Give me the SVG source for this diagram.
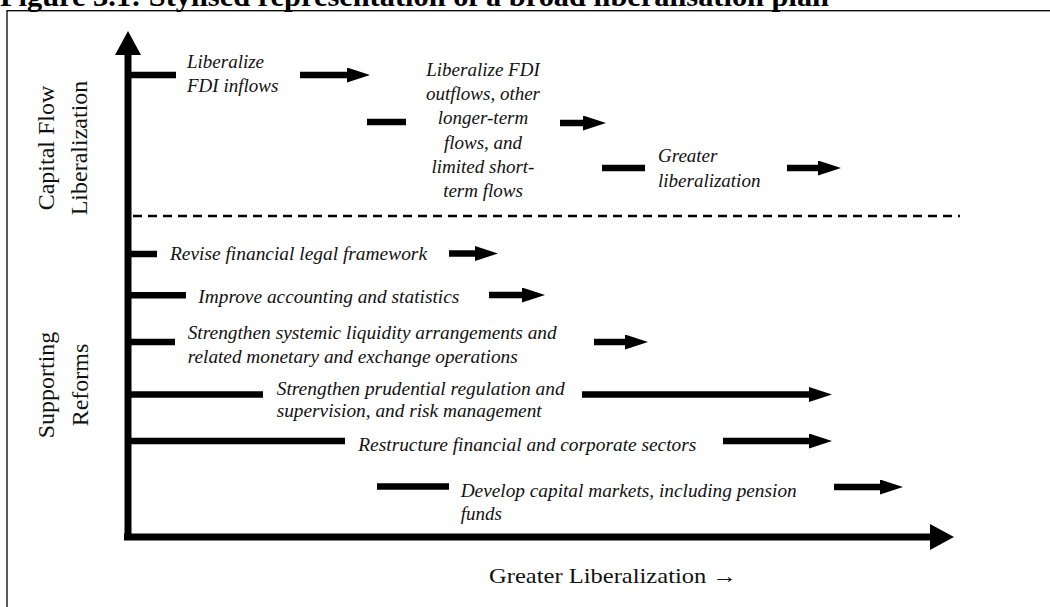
<svg xmlns="http://www.w3.org/2000/svg" width="1050" height="607" viewBox="0 0 1050 607">
<style>
.it{font-family:"Liberation Serif","Times New Roman",serif;font-style:italic;font-size:19px;fill:#111;}
.lab{font-family:"Liberation Serif","Times New Roman",serif;font-size:24px;fill:#111;}
.ttl{font-family:"Liberation Serif","Times New Roman",serif;font-weight:bold;font-size:30px;fill:#000;}
.ax{font-family:"Liberation Serif","Times New Roman",serif;font-size:22px;fill:#111;}
.bar{stroke:#000;stroke-width:6.5;fill:none;stroke-linecap:butt;}
.arr{stroke:#000;stroke-width:6.5;fill:none;stroke-linecap:butt;marker-end:url(#ah);}
.axis{stroke:#000;stroke-width:7;fill:none;stroke-linecap:butt;marker-end:url(#big);}
</style>
<defs>
<marker id="ah" markerUnits="userSpaceOnUse" viewBox="0 0 23 15" markerWidth="23" markerHeight="15" refX="0" refY="7.5" orient="auto"><path d="M0,0 L23,7.5 L0,15 Z" fill="#000"/></marker>
<marker id="big" markerUnits="userSpaceOnUse" viewBox="0 0 24 26" markerWidth="24" markerHeight="26" refX="0" refY="13" orient="auto"><path d="M0,0 L24,13 L0,26 Z" fill="#000"/></marker>
</defs>
<rect width="1050" height="607" fill="#fff"/>
<text class="ttl" x="0" y="6" textLength="829" lengthAdjust="spacingAndGlyphs">Figure 3.1: Stylised representation of a broad liberalisation plan</text>
<rect x="7" y="10.7" width="1100" height="700" fill="none" stroke="#000" stroke-width="1.3"/>

<g id="axes">
<line class="axis" x1="128" y1="540" x2="128" y2="55"/>
<line class="axis" x1="124" y1="537" x2="930" y2="537"/>
<line x1="133" y1="216" x2="960" y2="216" stroke="#000" stroke-width="2.5" stroke-dasharray="9 6"/>
</g>

<g id="axis-labels">
<text class="lab" transform="translate(54,148) rotate(-90)" text-anchor="middle">Capital Flow</text>
<text class="lab" transform="translate(87,148) rotate(-90)" text-anchor="middle">Liberalization</text>
<text class="lab" transform="translate(54,385) rotate(-90)" text-anchor="middle">Supporting</text>
<text class="lab" transform="translate(88,385) rotate(-90)" text-anchor="middle">Reforms</text>
<text class="ax" x="489" y="583" textLength="248" lengthAdjust="spacingAndGlyphs">Greater Liberalization →</text>
</g>

<g id="node-fdi-inflows">
<text class="it" x="187" y="67.5">Liberalize</text>
<text class="it" x="187" y="91.5">FDI inflows</text>
</g>
<g id="node-fdi-outflows">
<text class="it" x="483" y="75.5" text-anchor="middle">Liberalize FDI</text>
<text class="it" x="483" y="99.5" text-anchor="middle">outflows, other</text>
<text class="it" x="483" y="124" text-anchor="middle">longer-term</text>
<text class="it" x="483" y="148.5" text-anchor="middle">flows, and</text>
<text class="it" x="483" y="172.8" text-anchor="middle">limited short-</text>
<text class="it" x="483" y="197" text-anchor="middle">term flows</text>
</g>
<g id="node-greater">
<text class="it" x="658" y="161.7">Greater</text>
<text class="it" x="658" y="186.7">liberalization</text>
</g>
<g id="node-legal">
<text class="it" x="170" y="260.3" textLength="257" lengthAdjust="spacingAndGlyphs">Revise financial legal framework</text>
</g>
<g id="node-accounting">
<text class="it" x="198.3" y="303" textLength="261" lengthAdjust="spacingAndGlyphs">Improve accounting and statistics</text>
</g>
<g id="node-liquidity">
<text class="it" x="187.7" y="339" textLength="369" lengthAdjust="spacingAndGlyphs">Strengthen systemic liquidity arrangements and</text>
<text class="it" x="187.7" y="363" textLength="330" lengthAdjust="spacingAndGlyphs">related monetary and exchange operations</text>
</g>
<g id="node-prudential">
<text class="it" x="276.7" y="394.7" textLength="288" lengthAdjust="spacingAndGlyphs">Strengthen prudential regulation and</text>
<text class="it" x="276.7" y="417.3" textLength="265" lengthAdjust="spacingAndGlyphs">supervision, and risk management</text>
</g>
<g id="node-restructure">
<text class="it" x="358.3" y="450.7" textLength="338" lengthAdjust="spacingAndGlyphs">Restructure financial and corporate sectors</text>
</g>
<g id="node-capital-markets">
<text class="it" x="460.7" y="497.3" textLength="336" lengthAdjust="spacingAndGlyphs">Develop capital markets, including pension</text>
<text class="it" x="460.7" y="519.7">funds</text>
</g>

<g id="connectors">
<line class="bar" x1="128" y1="75" x2="176" y2="75"/>
<line class="arr" x1="300" y1="75" x2="347" y2="75"/>
<line class="bar" x1="367" y1="122" x2="406" y2="122"/>
<line class="arr" x1="560" y1="123" x2="583" y2="123"/>
<line class="bar" x1="602" y1="168" x2="645" y2="168"/>
<line class="arr" x1="787" y1="168" x2="818" y2="168"/>

<line class="bar" x1="128" y1="254" x2="157" y2="254"/>
<line class="arr" x1="449" y1="253.5" x2="475" y2="253.5"/>
<line class="bar" x1="128" y1="295.3" x2="186" y2="295.3"/>
<line class="arr" x1="489" y1="295" x2="522" y2="295"/>
<line class="bar" x1="128" y1="342" x2="175" y2="342"/>
<line class="arr" x1="594" y1="342" x2="625" y2="342"/>
<line class="bar" x1="128" y1="394.5" x2="263" y2="394.5"/>
<line class="arr" x1="582" y1="394.5" x2="809" y2="394.5"/>
<line class="bar" x1="128" y1="441" x2="345" y2="441"/>
<line class="arr" x1="723" y1="441" x2="809" y2="441"/>
<line class="bar" x1="377" y1="486.5" x2="449" y2="486.5"/>
<line class="arr" x1="834" y1="487" x2="880" y2="487"/>
</g>
</svg>
